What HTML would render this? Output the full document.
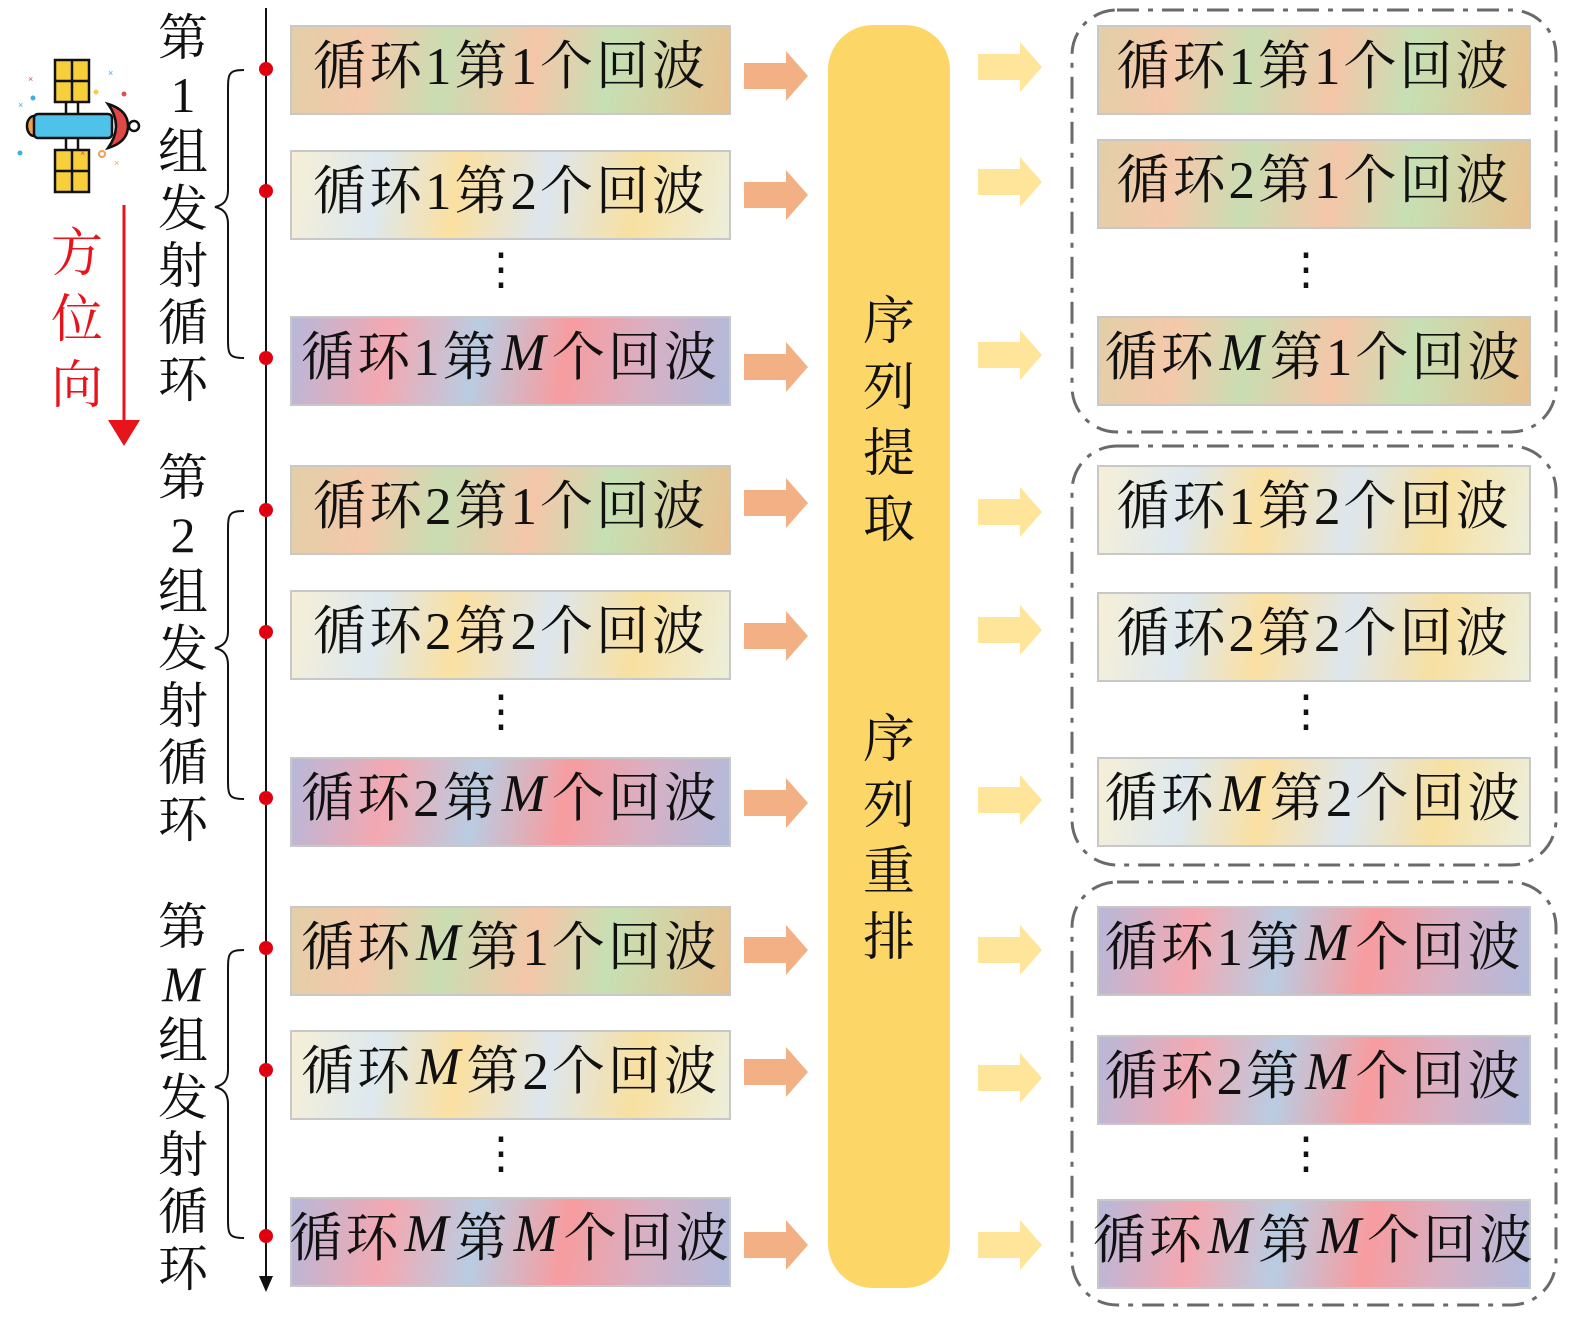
<!DOCTYPE html>
<html><head><meta charset="utf-8">
<style>
html,body{margin:0;padding:0;background:#fff;}
#root{position:relative;width:1575px;height:1319px;overflow:hidden;background:#fff;font-family:"Liberation Serif","Noto Serif CJK SC",serif;}
.box{position:absolute;box-sizing:border-box;border:2px solid #c8c8c8;height:90px;padding-bottom:16px;display:flex;align-items:center;justify-content:center;font-size:53px;color:#111;white-space:nowrap;letter-spacing:3px;}
.g1{background:linear-gradient(100deg,#e2cfa8 0%,#f4c8aa 18%,#c9ddb2 35%,#f4c6a8 55%,#c6e0b4 72%,#e8c08e 100%);}
.g2{background:linear-gradient(100deg,#f6efd6 0%,#dde8ef 20%,#fbe0a0 38%,#dde6ee 58%,#f8e0a0 78%,#eceedc 100%);}
.g3{background:linear-gradient(100deg,#b7b8da 0%,#f4a8b0 22%,#b9cce2 42%,#f79c9f 62%,#d8b0c4 80%,#b0badb 100%);}
.vt{position:absolute;font-size:50px;line-height:57px;width:60px;text-align:center;color:#111;}
.ct{position:absolute;left:828px;width:122px;text-align:center;font-size:52px;line-height:66px;color:#111;}
i{font-style:italic;font-family:"Liberation Serif",serif;padding:0 3px;}
.dots{position:absolute;font-size:44px;line-height:1;color:#111;}
</style></head>
<body>
<div id="root">
<svg id="svg" width="1575" height="1319" style="position:absolute;left:0;top:0">
  <rect x="828" y="25" width="122" height="1263" rx="45" fill="#fdd668"/>
  <g fill="none" stroke="#6a6a6a" stroke-width="3" stroke-dasharray="22,9,5,9">
    <rect x="1072" y="10" width="484" height="422" rx="45"/>
    <rect x="1072" y="446" width="484" height="419" rx="45"/>
    <rect x="1072" y="882" width="484" height="423" rx="45"/>
  </g>
  <line x1="266" y1="8" x2="266" y2="1280" stroke="#111" stroke-width="2"/>
  <polygon points="259,1276 273,1276 266,1292" fill="#111"/>
  <g fill="none" stroke="#111" stroke-width="2">
    <path d="M244,70 C228,70 228,74 228,92 L228,190 C228,200 224,205 215,207 C224,209 228,214 228,224 L228,336 C228,354 228,358 244,358"/>
    <path d="M244,511 C228,511 228,515 228,533 L228,631 C228,641 224,646 215,648 C224,650 228,655 228,665 L228,777 C228,795 228,799 244,799"/>
    <path d="M244,950 C228,950 228,954 228,972 L228,1070 C228,1080 224,1085 215,1087 C224,1089 228,1094 228,1104 L228,1216 C228,1234 228,1238 244,1238"/>
  </g>
  <line x1="124" y1="205" x2="124" y2="425" stroke="#e8141c" stroke-width="3"/>
  <polygon points="108,420 140,420 124,446" fill="#e8141c"/>
  <g stroke="#111" stroke-width="2.5">
    <rect x="55" y="60" width="34" height="42" fill="#f7cf3a"/>
    <line x1="72" y1="60" x2="72" y2="102"/><line x1="55" y1="81" x2="89" y2="81"/>
    <rect x="55" y="150" width="34" height="42" fill="#f7cf3a"/>
    <line x1="72" y1="150" x2="72" y2="192"/><line x1="55" y1="171" x2="89" y2="171"/>
    <line x1="66" y1="102" x2="66" y2="114"/><line x1="78" y1="102" x2="78" y2="114"/>
    <line x1="66" y1="138" x2="66" y2="150"/><line x1="78" y1="138" x2="78" y2="150"/>
    <ellipse cx="34" cy="126" rx="7" ry="10" fill="#f0a050"/>
    <rect x="34" y="114" width="78" height="24" rx="4" fill="#4ec2e8"/>
    <path d="M108,104 Q124,126 108,148 Q128,142 128,126 Q128,110 108,104 Z" fill="#e04848"/>
    <circle cx="134" cy="126" r="5" fill="#fff"/>
  </g>
  <g font-size="9" fill="#3ab0e0" font-family="Liberation Sans,sans-serif">
    <text x="18" y="108">×</text><text x="108" y="76">×</text><text x="80" y="156" fill="#e05050">×</text>
    <text x="28" y="82" fill="#e05050">×</text><text x="114" y="166" fill="#f0a050">×</text>
    <circle cx="33" cy="98" r="2.5"/><circle cx="20" cy="153" r="2.5"/><circle cx="96" cy="92" r="2.5" fill="#f7cf3a"/>
    <circle cx="124" cy="94" r="2.5" fill="#e05050"/><circle cx="102" cy="154" r="3" fill="none" stroke="#f0a050" stroke-width="2"/>
  </g>
  <g id="marks"></g>
</svg>

<div class="vt" style="left:153px;top:10px">第<br>1<br>组<br>发<br>射<br>循<br>环</div>
<div class="vt" style="left:153px;top:450px">第<br>2<br>组<br>发<br>射<br>循<br>环</div>
<div class="vt" style="left:153px;top:899px">第<br><i>M</i><br>组<br>发<br>射<br>循<br>环</div>
<div class="vt" style="left:47px;top:222px;color:#e8141c;font-size:52px;line-height:66px">方<br>位<br>向</div>
<div class="ct" style="top:290px">序<br>列<br>提<br>取</div>
<div class="ct" style="top:708px">序<br>列<br>重<br>排</div>
<div id="boxes"></div>
</div>
<script>
const leftTops=[25,150,316,465,590,757,906,1030,1197];
const rightTops=[25,139,316,465,592,757,906,1035,1199];
const leftLabels=['循环1第1个回波','循环1第2个回波','循环1第<i>M</i>个回波','循环2第1个回波','循环2第2个回波','循环2第<i>M</i>个回波','循环<i>M</i>第1个回波','循环<i>M</i>第2个回波','循环<i>M</i>第<i>M</i>个回波'];
const rightLabels=['循环1第1个回波','循环2第1个回波','循环<i>M</i>第1个回波','循环1第2个回波','循环2第2个回波','循环<i>M</i>第2个回波','循环1第<i>M</i>个回波','循环2第<i>M</i>个回波','循环<i>M</i>第<i>M</i>个回波'];
const leftStyles=['g1','g2','g3','g1','g2','g3','g1','g2','g3'];
const rightStyles=['g1','g1','g1','g2','g2','g2','g3','g3','g3'];
const dotYs=[69,191,358,510,632,798,948,1070,1236];
const orangeYs=[76,195,367,503,636,803,950,1072,1245];
const yellowYs=[67,182,355,512,630,800,950,1078,1245];
const ellipsisYs=[248,690,1132];

const boxes=document.getElementById('boxes');
const marks=document.getElementById('marks');
const NS='http://www.w3.org/2000/svg';
for(let i=0;i<9;i++){
  const a=document.createElement('div');
  a.className='box '+leftStyles[i];
  a.style.left='290px';a.style.width='441px';a.style.top=leftTops[i]+'px';
  a.innerHTML=leftLabels[i];
  
  
  boxes.appendChild(a);
  const b=document.createElement('div');
  b.className='box '+rightStyles[i];
  b.style.left='1097px';b.style.width='434px';b.style.top=rightTops[i]+'px';
  b.innerHTML=rightLabels[i];
  
  
  boxes.appendChild(b);
  const d=document.createElementNS(NS,'circle');
  d.setAttribute('cx',266);d.setAttribute('cy',dotYs[i]);d.setAttribute('r',7);d.setAttribute('fill','#e00010');
  
  
  marks.appendChild(d);
  const arrow=(x,y,c,name)=>{
    const p=document.createElementNS(NS,'polygon');
    p.setAttribute('points',`${x},${y-13} ${x+42},${y-13} ${x+42},${y-25} ${x+64},${y} ${x+42},${y+25} ${x+42},${y+13} ${x},${y+13}`);
    p.setAttribute('fill',c);
    
    
    marks.appendChild(p);
  };
  arrow(744,orangeYs[i],'#f2b084','input-arrow');
  arrow(978,yellowYs[i],'#fee59a','output-arrow');
}
for(const y of ellipsisYs){
  [479,1284].forEach((x)=>{
    const e=document.createElement('div');
    e.className='dots';e.style.left=x+'px';e.style.top=y+'px';e.textContent='⋮';
    
    
    boxes.appendChild(e);
  });
}
</script>
</body></html>
